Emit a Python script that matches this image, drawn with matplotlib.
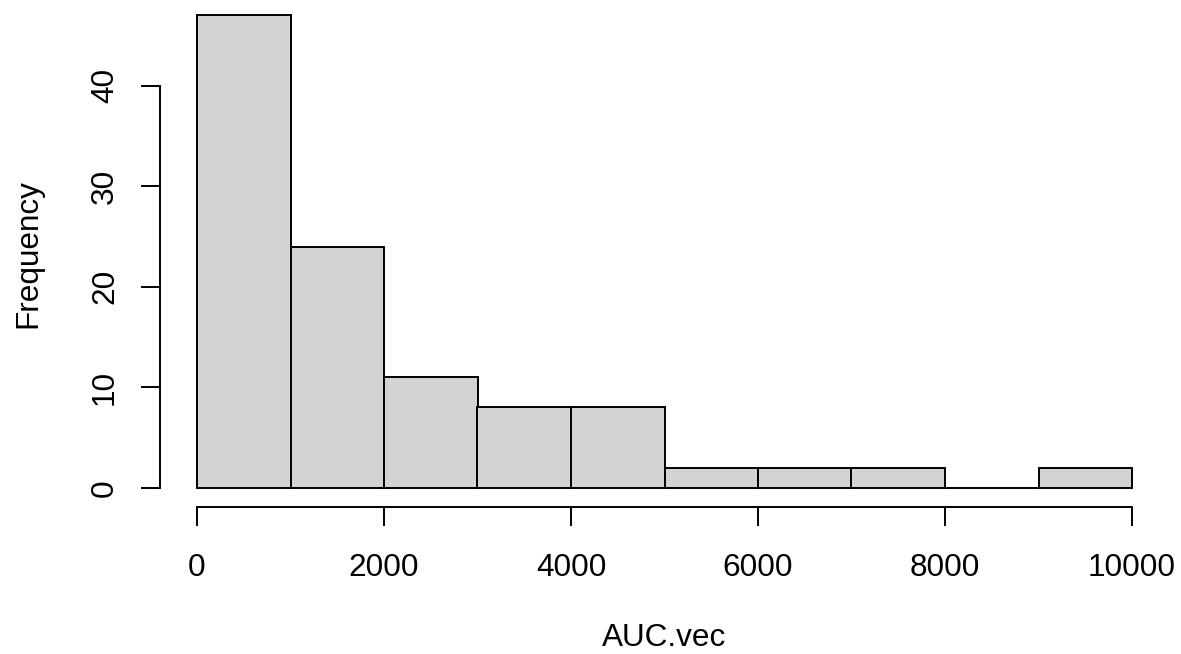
import numpy as np
import matplotlib.pyplot as plt

plt.rcParams['font.family'] = ['Liberation Sans', 'DejaVu Sans']

# histogram of AUC.vec, bins of width 1000
bin_edges = np.arange(0, 11000, 1000)
counts = [47, 24, 11, 8, 8, 2, 2, 2, 0, 2]
x_ticks = [0, 2000, 4000, 6000, 8000, 10000]
y_ticks = [0, 10, 20, 30, 40]

W, H = 1181, 654
fig = plt.figure(figsize=(W / 100, H / 100), dpi=100)
ax = fig.add_axes([159.6 / W, 1 - 507 / H, 1009.8 / W, 507 / H])

ax.bar(bin_edges[:-1], counts, width=np.diff(bin_edges), align='edge',
       color='#d3d3d3', edgecolor='black', linewidth=1.4)

ax.set_xlim(-400, 10400)
ax.set_ylim(-1.89, 48.5)

for s in ['top', 'right']:
    ax.spines[s].set_visible(False)
ax.spines['bottom'].set_bounds(0, 10000)
ax.spines['left'].set_bounds(0, 40)
for s in ['bottom', 'left']:
    ax.spines[s].set_linewidth(1.4)

ax.set_xticks(x_ticks)
ax.set_yticks(y_ticks)
ax.set_yticklabels([str(v) for v in y_ticks], rotation=90, va='center')
ax.tick_params(axis='both', length=14, width=1.4, labelsize=22.7)
ax.tick_params(axis='x', pad=19)
ax.tick_params(axis='y', pad=14.5)

fig.text(664 / W, 1 - 646.5 / H, 'AUC.vec', ha='center', va='baseline', fontsize=22.7)
fig.text(28 / W, 1 - 254 / H, 'Frequency', ha='center', va='center',
         rotation=90, fontsize=22.7)

fig.savefig('out.png', dpi=100)
